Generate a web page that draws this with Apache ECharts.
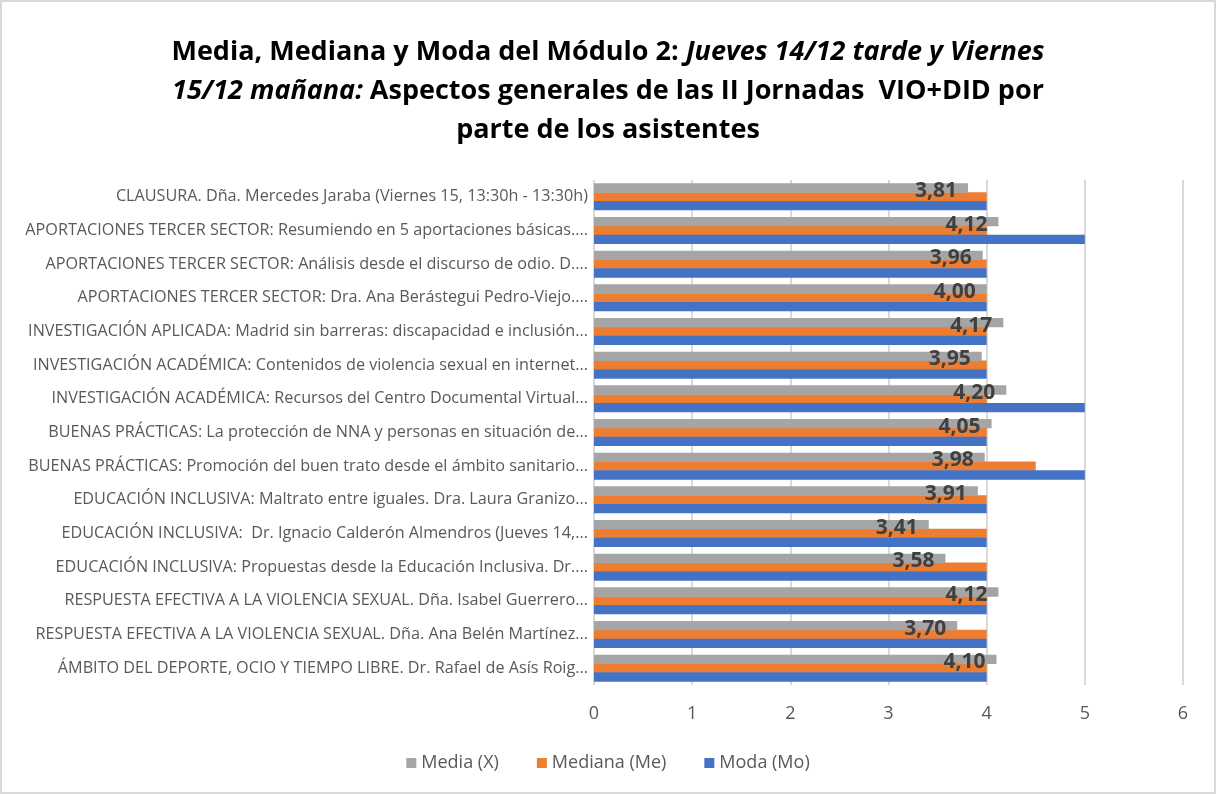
<!DOCTYPE html>
<html>
<head>
<meta charset="utf-8">
<script src="https://cdn.jsdelivr.net/npm/echarts@6/dist/echarts.min.js"></script>
<style>
  html, body { margin: 0; padding: 0; background: #fff; }
  #chart { width: 1212px; height: 790px; border: 2px solid #d9d9d9; }
</style>
</head>
<body>
<div id="chart"></div>
<script>
// categories listed bottom -> top
const categories = [
  'ÁMBITO DEL DEPORTE, OCIO Y TIEMPO LIBRE. Dr. Rafael de Asís Roig...',
  'RESPUESTA EFECTIVA A LA VIOLENCIA SEXUAL. Dña. Ana Belén Martínez...',
  'RESPUESTA EFECTIVA A LA VIOLENCIA SEXUAL. Dña. Isabel Guerrero...',
  'EDUCACIÓN INCLUSIVA: Propuestas desde la Educación Inclusiva. Dr....',
  'EDUCACIÓN INCLUSIVA:  Dr. Ignacio Calderón Almendros (Jueves 14,...',
  'EDUCACIÓN INCLUSIVA: Maltrato entre iguales. Dra. Laura Granizo...',
  'BUENAS PRÁCTICAS: Promoción del buen trato desde el ámbito sanitario...',
  'BUENAS PRÁCTICAS: La protección de NNA y personas en situación de...',
  'INVESTIGACIÓN ACADÉMICA: Recursos del Centro Documental Virtual...',
  'INVESTIGACIÓN ACADÉMICA: Contenidos de violencia sexual en internet...',
  'INVESTIGACIÓN APLICADA: Madrid sin barreras: discapacidad e inclusión...',
  'APORTACIONES TERCER SECTOR: Dra. Ana Berástegui Pedro-Viejo....',
  'APORTACIONES TERCER SECTOR: Análisis desde el discurso de odio. D....',
  'APORTACIONES TERCER SECTOR: Resumiendo en 5 aportaciones básicas....',
  'CLAUSURA. Dña. Mercedes Jaraba (Viernes 15, 13:30h - 13:30h)'
];
const media   = [4.10, 3.70, 4.12, 3.58, 3.41, 3.91, 3.98, 4.05, 4.20, 3.95, 4.17, 4.00, 3.96, 4.12, 3.81];
const mediana = [4, 4, 4, 4, 4, 4, 4.5, 4, 4, 4, 4, 4, 4, 4, 4];
const moda    = [4, 4, 4, 4, 4, 4, 5, 4, 5, 4, 4, 4, 4, 5, 4];
const xTicks = [0, 1, 2, 3, 4, 5, 6];

const font = "'Open Sans', sans-serif";
const chart = echarts.init(document.getElementById('chart'));

chart.setOption({
  animation: false,
  textStyle: { fontFamily: font },
  title: {
    left: 'center',
    top: 26,
    text: '{b|Media, Mediana y Moda del Módulo 2: }{i|Jueves 14/12 tarde y Viernes}\n{i|15/12 mañana:}{b| Aspectos generales de las II Jornadas  VIO+DID por}\n{b|parte de los asistentes}',
    textStyle: {
      rich: {
        b: { fontFamily: font, fontSize: 27, fontWeight: 'bold', color: '#000', lineHeight: 39 },
        i: { fontFamily: font, fontSize: 27, fontWeight: 'bold', fontStyle: 'italic', color: '#000', lineHeight: 39 }
      }
    }
  },
  legend: {
    bottom: 15,
    left: 'center',
    itemWidth: 10,
    itemHeight: 10,
    itemGap: 38,
    icon: 'rect',
    textStyle: { fontSize: 18, color: '#595959', fontFamily: font },
    data: ['Media (X)', 'Mediana (Me)', 'Moda (Mo)']
  },
  grid: { left: 592, right: 31, top: 178, bottom: 107 },
  xAxis: {
    type: 'value',
    min: xTicks[0],
    max: xTicks[xTicks.length - 1],
    interval: 1,
    axisLine: { show: false },
    axisTick: { show: false },
    axisLabel: { fontSize: 18, color: '#595959', margin: 20, fontFamily: font },
    splitLine: { lineStyle: { color: '#d9d9d9', width: 2 } }
  },
  yAxis: {
    type: 'category',
    data: categories,
    axisLine: { show: false },
    axisTick: { show: false },
    axisLabel: { fontSize: 16.2, color: '#595959', margin: 6, fontFamily: font }
  },
  series: [
    {
      name: 'Media (X)', type: 'bar', data: media,
      barGap: '-5%', barCategoryGap: '20%',
      itemStyle: { color: '#a5a5a5' },
      z: 3,
      label: {
        show: true,
        position: 'insideRight',
        distance: 11,
        offset: [0, 3],
        fontSize: 21,
        fontWeight: 'bold',
        color: '#404040',
        fontFamily: font,
        formatter: p => p.value.toFixed(2).replace('.', ',')
      }
    },
    {
      name: 'Mediana (Me)', type: 'bar', data: mediana,
      itemStyle: { color: '#ed7d31' }
    },
    {
      name: 'Moda (Mo)', type: 'bar', data: moda,
      itemStyle: { color: '#4472c4' }
    }
  ]
});
</script>
</body>
</html>
